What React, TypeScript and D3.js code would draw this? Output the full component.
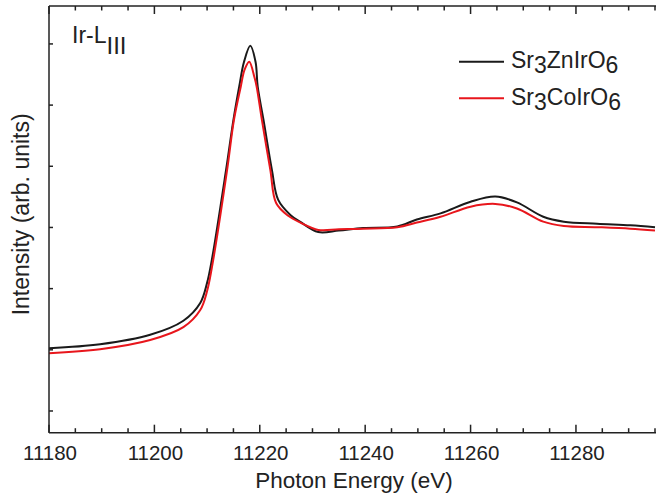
import React from 'react';
import * as d3 from 'd3';

// energies (eV) and normalized intensities
const znEnergy = [11180, 11189.7, 11199.2, 11205.5, 11208.7, 11210.0, 11210.9, 11213.6, 11215.0, 11216.1, 11217.0, 11218.2, 11219.2, 11219.6, 11220.7, 11222.3, 11223.5, 11225.8, 11227.7, 11231.1, 11235.0, 11239.6, 11246.1, 11249.8, 11254.3, 11260.0, 11264.7, 11268.8, 11273.8, 11277.7, 11284.0, 11290.3, 11295];
const znValue = [0.205, 0.218, 0.249, 0.295, 0.353, 0.419, 0.494, 0.788, 0.952, 1.061, 1.141, 1.194, 1.141, 1.061, 0.952, 0.788, 0.690, 0.641, 0.618, 0.585, 0.590, 0.598, 0.603, 0.626, 0.646, 0.684, 0.701, 0.682, 0.635, 0.619, 0.612, 0.607, 0.601];

const coEnergy = [11180, 11189.7, 11199.2, 11205.5, 11208.7, 11210.0, 11210.9, 11213.8, 11215.1, 11216.4, 11217.1, 11218.0, 11219.0, 11219.4, 11220.4, 11222.0, 11223.1, 11225.4, 11227.7, 11231.1, 11235.0, 11239.6, 11246.1, 11249.8, 11254.3, 11260.0, 11264.7, 11268.8, 11273.8, 11277.7, 11284.0, 11290.3, 11295];
const coValue = [0.189, 0.202, 0.232, 0.274, 0.330, 0.392, 0.468, 0.788, 0.952, 1.061, 1.115, 1.142, 1.090, 1.061, 0.952, 0.788, 0.680, 0.638, 0.616, 0.592, 0.594, 0.596, 0.601, 0.616, 0.635, 0.668, 0.677, 0.662, 0.619, 0.605, 0.601, 0.596, 0.590];

const xMajorTicks = [11180, 11200, 11220, 11240, 11260, 11280];
const yTicks = [0, 0.2, 0.4, 0.6, 0.8, 1.0, 1.2];

const seriesNames = ['Zn', 'Co'];
const seriesColors = ['#1a1a1a', '#e8161c'];

const W = 656;
const H = 495;
const left = 49;
const right = 655;
const top = 6;
const bottom = 432.7;

const App = () => {
  const x = d3.scaleLinear().domain([11180, 11295]).range([left, right]);
  const y = d3.scaleLinear().domain([-0.071, 1.324]).range([bottom, top]);

  const minorTicks = d3.range(11180, 11296, 5).filter(t => !xMajorTicks.includes(t));

  const line = d3.line<[number, number]>()
    .x(d => x(d[0]))
    .y(d => y(d[1]))
    .curve(d3.curveCatmullRom.alpha(0.5));

  const series = [
    znEnergy.map((e, i) => [e, znValue[i]] as [number, number]),
    coEnergy.map((e, i) => [e, coValue[i]] as [number, number])
  ];

  const font = "'Liberation Sans', Arial, Helvetica, sans-serif";
  const axisColor = '#222';

  return (
    <svg width={W} height={H} style={{ position: 'absolute', left: 0, top: 0, background: '#fff' }} fontFamily={font}>
      <rect width={W} height={H} fill="#fff" />

      {/* curves */}
      {series.map((s, i) => (
        <path key={seriesNames[i]} d={line(s) || ''} fill="none" stroke={seriesColors[i]} strokeWidth={2} />
      ))}

      {/* axes lines */}
      <line x1={left} x2={left} y1={top} y2={bottom} stroke={axisColor} strokeWidth={1.5} />
      <line x1={left} x2={W} y1={bottom} y2={bottom} stroke={axisColor} strokeWidth={1.5} />
      <line x1={left} x2={W} y1={top} y2={top} stroke={axisColor} strokeWidth={1.5} />

      {/* x ticks, bottom and top, inward */}
      {xMajorTicks.map(t => (
        <g key={'M' + t}>
          <line x1={x(t)} x2={x(t)} y1={bottom} y2={bottom - 8} stroke={axisColor} strokeWidth={1.5} />
          <line x1={x(t)} x2={x(t)} y1={top} y2={top + 8} stroke={axisColor} strokeWidth={1.5} />
          <text x={x(t) + 1} y={459.5} textAnchor="middle" fontSize={20.5} fill="#222">{t}</text>
        </g>
      ))}
      {minorTicks.map(t => (
        <g key={'m' + t}>
          <line x1={x(t)} x2={x(t)} y1={bottom} y2={bottom - 4.5} stroke={axisColor} strokeWidth={1.5} />
          <line x1={x(t)} x2={x(t)} y1={top} y2={top + 4.5} stroke={axisColor} strokeWidth={1.5} />
        </g>
      ))}

      {/* y ticks, no labels */}
      {yTicks.map(t => (
        <line key={'y' + t} x1={left} x2={left + 4} y1={y(t)} y2={y(t)} stroke={axisColor} strokeWidth={1.5} />
      ))}

      {/* axis titles */}
      <text x={(left + right) / 2 + 2} y={487.5} textAnchor="middle" fontSize={22.5} fill="#222">Photon Energy (eV)</text>
      <text transform={`translate(29, ${(top + bottom) / 2 - 5}) rotate(-90)`} textAnchor="middle" fontSize={23} fill="#222">Intensity (arb. units)</text>

      {/* edge label */}
      <text x={72} y={43.3} style={{ fontSize: '23px' }} fill="#222">
        Ir-L<tspan dy={11} style={{ fontSize: '24px' }}>III</tspan>
      </text>

      {/* legend */}
      {['Sr', 'Sr'].map((_, i) => {
        const ly = i === 0 ? 61.7 : 98.3;
        const rest = i === 0 ? 'ZnIrO' : 'CoIrO';
        return (
          <g key={'leg' + i}>
            <line x1={459} x2={504} y1={ly} y2={ly} stroke={seriesColors[i]} strokeWidth={2} />
            <text x={511} y={ly + 6.6} fontSize={23} fill="#222">
              Sr<tspan dy={5}>3</tspan><tspan dy={-5}>{rest}</tspan><tspan dy={5}>6</tspan>
            </text>
          </g>
        );
      })}
    </svg>
  );
};

export default App;
